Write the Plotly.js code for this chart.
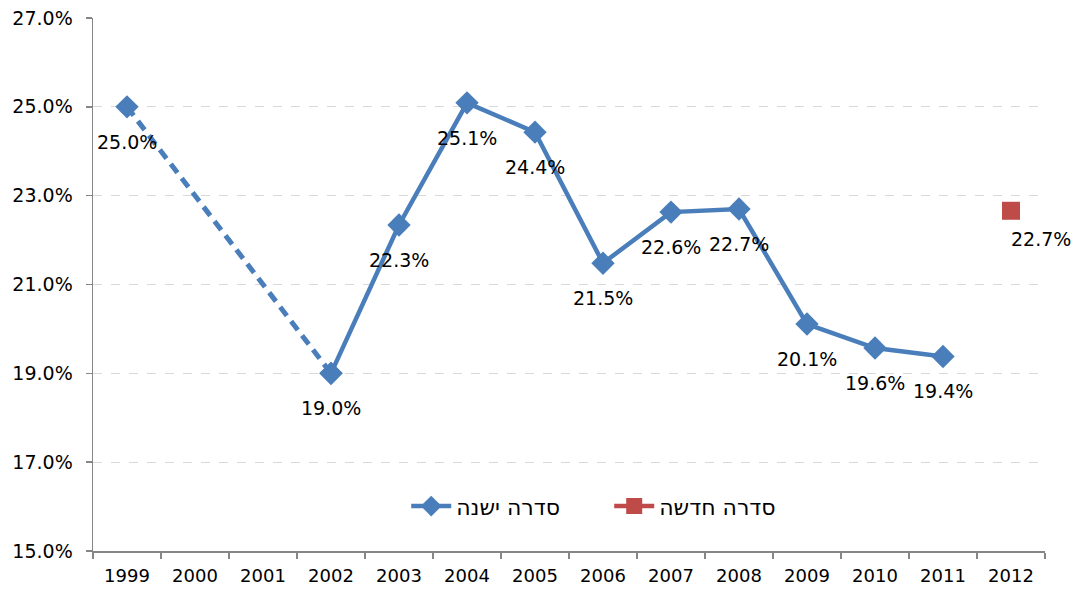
<!DOCTYPE html>
<html>
<head>
<meta charset="utf-8">
<script src="https://cdn.plot.ly/plotly-3.0.1.min.js"></script>
<style>html,body{margin:0;padding:0;background:#fff;}#chart{width:1072px;height:590px;}</style>
</head>
<body>
<div id="chart"></div>
<script>
var years = ['1999','2000','2001','2002','2003','2004','2005','2006','2007','2008','2009','2010','2011','2012'];
var oldSeries = [0.250, null, null, 0.190, 0.2234, 0.2509, 0.2443, 0.2148, 0.2263, 0.2270, 0.2011, 0.1957, 0.1938, null];
var newSeries = [null, null, null, null, null, null, null, null, null, null, null, null, null, 0.2266];
var oldName = 'סדרה ישנה';
var newName = 'סדרה חדשה';

var blue = '#4a7ebb';
var red = '#be4b48';
var font = 'DejaVu Sans, Verdana, sans-serif';
var fs = 19;

var firstGap = oldSeries.indexOf(null);
var resumeIdx = oldSeries.findIndex(function(v,i){return i>firstGap && v!==null;});
var dashY = oldSeries.map(function(v,i){return i<=resumeIdx ? v : null;});
var solidY = oldSeries.map(function(v,i){return i>=resumeIdx ? v : null;});

var traces = [
  {x: years, y: dashY, type:'scatter', mode:'lines+markers', connectgaps:true, showlegend:false,
   line:{color:blue, width:5, dash:'11px,7px'}, marker:{symbol:'diamond', size:18, color:blue}, hoverinfo:'skip'},
  {x: years, y: solidY, type:'scatter', mode:'lines+markers', name: oldName,
   line:{color:blue, width:4.5}, marker:{symbol:'diamond', size:18, color:blue}},
  {x: years, y: newSeries, type:'scatter', mode:'lines+markers', name: newName,
   line:{color:red, width:4.5}, marker:{symbol:'square', size:18, color:red}}
];

var annotations = [];
oldSeries.forEach(function(v,i){
  if (v===null) return;
  annotations.push({x: i, y: v, xref:'x', yref:'y', text:(v*100).toFixed(1)+'%', showarrow:false,
    yshift:-35, font:{family:font, size:fs, color:'#000'}});
});
newSeries.forEach(function(v,i){
  if (v===null) return;
  annotations.push({x: i, y: v, xref:'x', yref:'y', text:(v*100).toFixed(1)+'%', showarrow:false,
    yshift:-28, xshift:30, font:{family:font, size:fs, color:'#000'}});
});

var layout = {
  width:1072, height:590,
  margin:{l:93, r:27, t:18, b:39, pad:0},
  paper_bgcolor:'#fff', plot_bgcolor:'#fff',
  font:{family:font, size:fs, color:'#000'},
  xaxis:{type:'category', range:[-0.5, years.length-0.5], autorange:false, showline:true, linecolor:'#868686', linewidth:1.5,
    ticks:'outside', tickson:'boundaries', ticklen:6, tickcolor:'#868686', tickwidth:1.5, showgrid:false, zeroline:false,
    ticklabelstandoff:8, tickfont:{family:font, size:18, color:'#000'}},
  yaxis:{range:[0.15,0.27], autorange:false, dtick:0.02, tick0:0.15, tickformat:'.1%', showline:true, linecolor:'#868686', linewidth:1.5,
    ticks:'outside', ticklen:6, tickcolor:'#868686', tickwidth:1.5, showgrid:true, gridcolor:'#d9d9d9', griddash:'dash',
    gridwidth:1, zeroline:false, ticklabelstandoff:9, tickfont:{family:font, size:fs, color:'#000'}},
  legend:{orientation:'h', x:0.329, xanchor:'left', y:0.084, yanchor:'middle', bgcolor:'rgba(0,0,0,0)',
    font:{family:font, size:22, color:'#000'}, itemwidth:40, entrywidth:148, entrywidthmode:'pixels', traceorder:'normal'},
  annotations: annotations,
  showlegend:true
};

Plotly.newPlot('chart', traces, layout, {displayModeBar:false, staticPlot:true});
</script>
</body>
</html>
